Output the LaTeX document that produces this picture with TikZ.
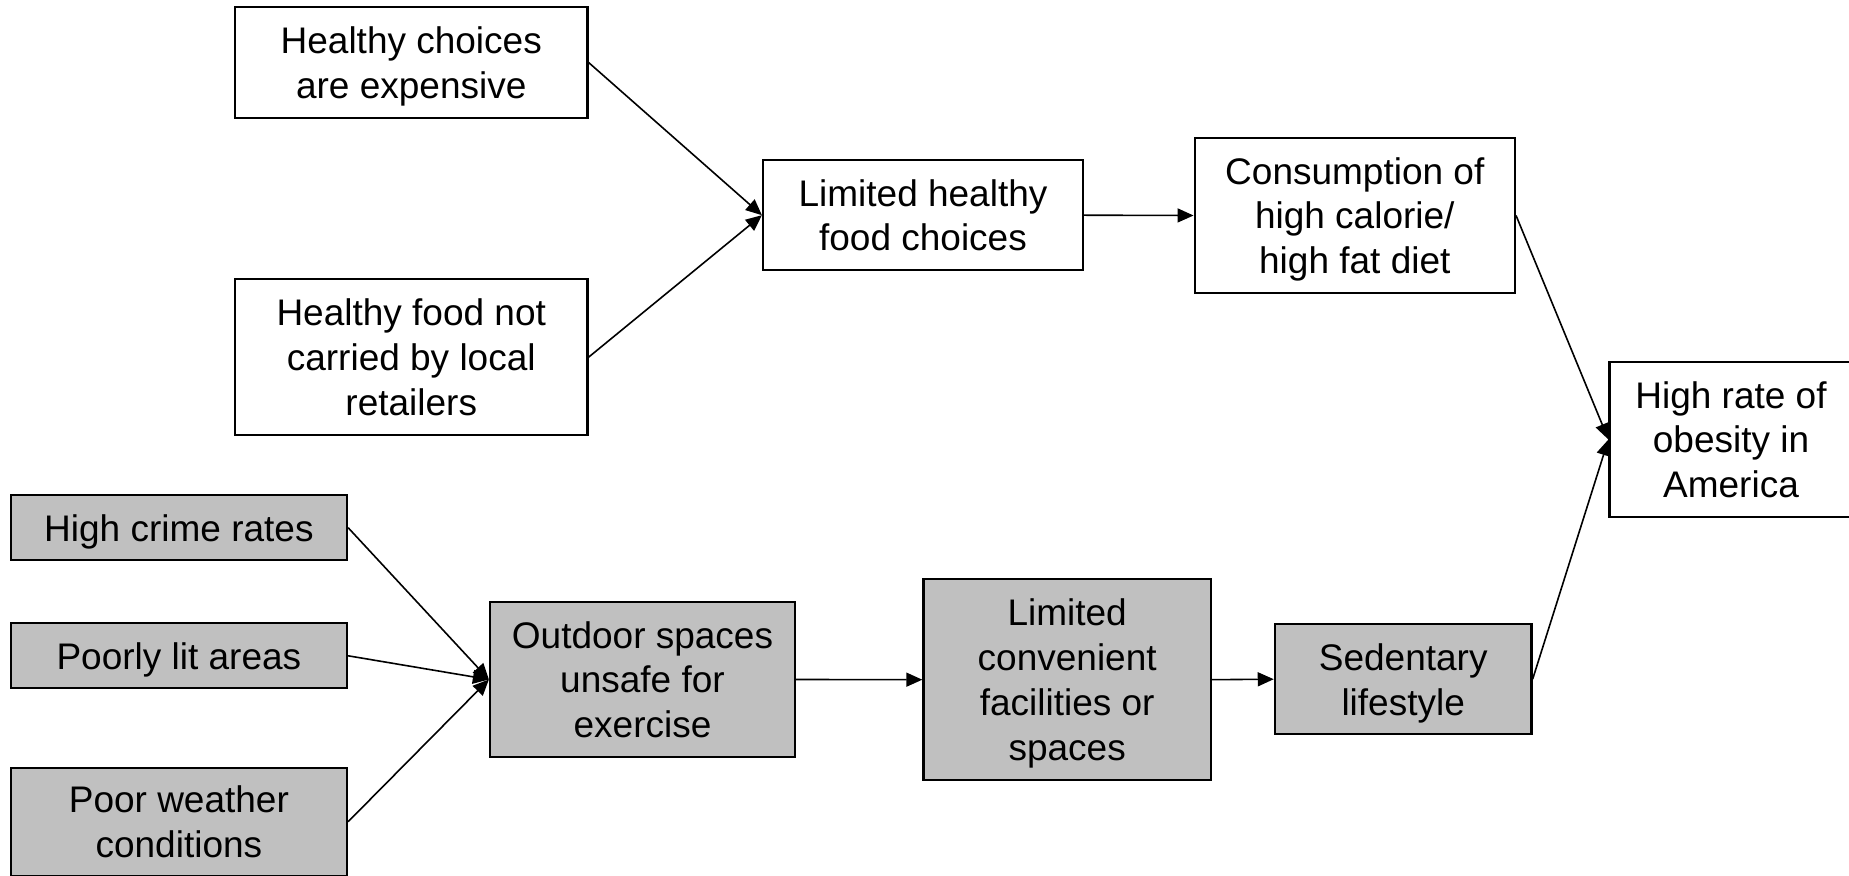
\documentclass[tikz,border=0pt]{standalone}
\usepackage{fontspec}
\setmainfont{Liberation Sans}
\usetikzlibrary{arrows.meta}
\definecolor{boxgray}{RGB}{192,192,192}
\begin{document}
\begin{tikzpicture}[x=0.5pt,y=-0.5pt,
  box/.style={draw=black, line width=1.1pt, fill=white, inner sep=0pt,
    align=center, text depth=-1.2pt, font=\fontsize{18.5}{22.4}\selectfont},
  graybox/.style={box, fill=boxgray},
  wh/.style 2 args={minimum width=#1*0.5pt, minimum height=#2*0.5pt},
  arr/.style={line width=0.8pt, -{Triangle[length=8pt,width=7pt]}}]
\useasboundingbox (0,0) rectangle (1849,876);

% food-environment branch
\node[box, wh={352.5}{110.4}] (b1) at (411.25,62.5) {Healthy choices\\are expensive};
\node[box, wh={352.5}{155.7}] (b2) at (411.25,357.2) {Healthy food not\\carried by local\\retailers};
\node[box, wh={320}{110.3}] (b3) at (923,215.2) {Limited healthy\\food choices};
\node[box, wh={320.3}{155.6}] (b4) at (1354.8,215.5) {Consumption of\\high calorie/\\high fat diet};

% outcome
\node[box, wh={243}{155.6}] (b5) at (1731,439.5) {High rate of\\obesity in\\America};

% physical-activity branch
\node[graybox, wh={336.3}{65.3}] (b6) at (178.9,527.7) {High crime rates};
\node[graybox, wh={336.3}{65}] (b7) at (178.9,655.8) {Poorly lit areas};
\node[graybox, wh={336.3}{108}] (b8) at (178.9,821.7) {Poor weather\\conditions};
\node[graybox, wh={305}{155.6}] (b9) at (642.5,679.5) {Outdoor spaces\\unsafe for\\exercise};
\node[graybox, wh={287.6}{200.7}] (b10) at (1067.2,679.7) {Limited\\convenient\\facilities or\\spaces};
\node[graybox, wh={256.7}{110.3}] (b11) at (1403.2,679.2) {Sedentary\\lifestyle};

% connectors
\draw[arr] (b1.east) -- (b3.west);
\draw[arr] (b2.east) -- (b3.west);
\draw[arr] (b3.east) -- (b4.west);
\draw[arr] (b4.east) -- (b5.west);
\draw[arr] (b6.east) -- (b9.west);
\draw[arr] (b7.east) -- (b9.west);
\draw[arr] (b8.east) -- (b9.west);
\draw[arr] (b9.east) -- (b10.west);
\draw[arr] (b10.east) -- (b11.west);
\draw[arr] (b11.east) -- (b5.west);
\end{tikzpicture}
\end{document}
